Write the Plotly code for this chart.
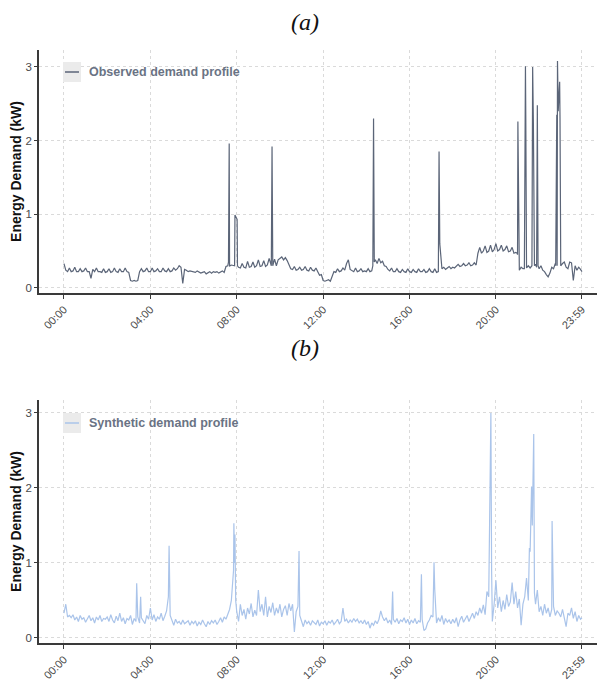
import plotly.graph_objects as go

# ---------------- data ----------------
tick_minutes = [0, 240, 480, 720, 960, 1200, 1439]
tick_labels = ["00:00", "04:00", "08:00", "12:00", "16:00", "20:00", "23:59"]

# Observed profile, 5-minute base readings (kW), one row per hour
obs_base = [
    0.33, 0.24, 0.22, 0.27, 0.22, 0.23, 0.28, 0.22, 0.22, 0.26, 0.22, 0.23,
    0.27, 0.22, 0.22, 0.13, 0.25, 0.22, 0.27, 0.22, 0.22, 0.21, 0.26, 0.21,
    0.22, 0.26, 0.21, 0.22, 0.27, 0.22, 0.21, 0.26, 0.22, 0.22, 0.27, 0.22,
    0.21, 0.10, 0.09, 0.10, 0.09, 0.10, 0.22, 0.26, 0.22, 0.23, 0.27, 0.22,
    0.22, 0.27, 0.22, 0.23, 0.26, 0.22, 0.22, 0.27, 0.23, 0.22, 0.26, 0.22,
    0.23, 0.27, 0.24, 0.26, 0.30, 0.28, 0.06, 0.25, 0.24, 0.22, 0.23, 0.22,
    0.22, 0.21, 0.23, 0.22, 0.20, 0.21, 0.22, 0.19, 0.21, 0.22, 0.20, 0.22,
    0.21, 0.22, 0.20, 0.22, 0.23, 0.21, 0.29, 0.30, 0.29, 0.31, 0.30, 0.30,
    0.94, 0.28, 0.27, 0.33, 0.28, 0.27, 0.36, 0.28, 0.29, 0.35, 0.28, 0.30,
    0.38, 0.29, 0.30, 0.37, 0.29, 0.31, 0.40, 0.30, 0.31, 0.39, 0.30, 0.38,
    0.40, 0.42, 0.38, 0.41, 0.37, 0.30, 0.26, 0.25, 0.29, 0.24, 0.25, 0.28,
    0.24, 0.25, 0.29, 0.24, 0.23, 0.28, 0.24, 0.23, 0.27, 0.22, 0.17, 0.18,
    0.10, 0.09, 0.10, 0.11, 0.09, 0.17, 0.22, 0.21, 0.26, 0.22, 0.23, 0.27,
    0.24, 0.33, 0.38, 0.25, 0.23, 0.22, 0.27, 0.22, 0.23, 0.26, 0.22, 0.23,
    0.22, 0.26, 0.22, 0.23, 0.34, 0.38, 0.33, 0.40, 0.34, 0.36, 0.30, 0.29,
    0.25, 0.23, 0.27, 0.22, 0.22, 0.26, 0.22, 0.21, 0.25, 0.22, 0.21, 0.26,
    0.22, 0.21, 0.25, 0.22, 0.21, 0.26, 0.22, 0.22, 0.25, 0.21, 0.22, 0.26,
    0.22, 0.21, 0.26, 0.21, 0.20, 0.55, 0.26, 0.28, 0.25, 0.27, 0.29, 0.26,
    0.28, 0.27, 0.30, 0.32, 0.29, 0.30, 0.33, 0.30, 0.31, 0.34, 0.30, 0.31,
    0.34, 0.31, 0.47, 0.55, 0.47, 0.50, 0.57, 0.48, 0.50, 0.58, 0.49, 0.52,
    0.60, 0.50, 0.52, 0.58, 0.50, 0.52, 0.57, 0.49, 0.50, 0.55, 0.47, 0.48,
    0.45, 0.24, 0.28, 0.26, 0.26, 0.27, 0.30, 0.27, 0.30, 0.30, 0.32, 0.28,
    0.26, 0.30, 0.24, 0.22, 0.18, 0.15, 0.20, 0.28, 0.26, 0.33, 0.30, 0.33,
    0.30, 0.33, 0.35, 0.28, 0.26, 0.35, 0.34, 0.10, 0.30, 0.24, 0.28, 0.25,
]
obs_end = 0.22  # reading at 23:59
# Observed short events (minute, kW)
obs_event_min = [457, 459, 461, 474, 475, 477, 479, 481, 482,
                 576, 578, 580, 858, 860, 862, 1040, 1042, 1044,
                 1259, 1261, 1263, 1279, 1280, 1281, 1282, 1283, 1284,
                 1300, 1301, 1302, 1304, 1306, 1307, 1313, 1315, 1317,
                 1366, 1367, 1369, 1371, 1373, 1375, 1377, 1378, 1379]
obs_event_kw = [0.35, 1.96, 0.30, 0.30, 0.99, 0.97, 0.95, 0.93, 0.30,
                0.30, 1.92, 0.30, 0.30, 2.30, 0.35, 0.22, 1.85, 0.60,
                0.47, 2.26, 0.25, 0.26, 2.25, 2.30, 3.01, 2.28, 0.28,
                0.30, 2.20, 3.00, 2.25, 2.20, 0.30, 0.28, 2.48, 0.30,
                0.30, 2.30, 2.35, 3.08, 2.40, 2.60, 2.80, 2.30, 0.30]

# Synthetic profile, 5-minute base readings (kW), one row per hour
syn_base = [
    0.33, 0.45, 0.28, 0.30, 0.27, 0.31, 0.24, 0.28, 0.22, 0.30, 0.25, 0.27,
    0.21, 0.26, 0.30, 0.23, 0.27, 0.20, 0.28, 0.24, 0.30, 0.22, 0.26, 0.25,
    0.28, 0.22, 0.31, 0.24, 0.20, 0.29, 0.23, 0.33, 0.22, 0.27, 0.19, 0.26,
    0.24, 0.30, 0.18, 0.26, 0.22, 0.28, 0.20, 0.27, 0.23, 0.19, 0.30, 0.25,
    0.40, 0.24, 0.31, 0.22, 0.28, 0.25, 0.33, 0.23, 0.29, 0.36, 0.55, 0.30,
    0.22, 0.17, 0.25, 0.20, 0.22, 0.18, 0.24, 0.19, 0.21, 0.23, 0.17, 0.22,
    0.19, 0.23, 0.16, 0.21, 0.18, 0.24, 0.19, 0.15, 0.22, 0.18, 0.23, 0.20,
    0.24, 0.18, 0.22, 0.27, 0.21, 0.28, 0.25, 0.32, 0.38, 0.50, 0.80, 0.45,
    0.35, 0.22, 0.45, 0.30, 0.38, 0.25, 0.40, 0.32, 0.46, 0.28, 0.37, 0.30,
    0.64, 0.35, 0.45, 0.30, 0.55, 0.28, 0.42, 0.34, 0.47, 0.30, 0.40, 0.33,
    0.45, 0.28, 0.38, 0.43, 0.30, 0.46, 0.36, 0.45, 0.08, 0.35, 0.42, 0.30,
    0.22, 0.15, 0.24, 0.19, 0.22, 0.17, 0.23, 0.20, 0.18, 0.24, 0.16, 0.21,
    0.19, 0.23, 0.17, 0.22, 0.20, 0.24, 0.18, 0.21, 0.25, 0.19, 0.22, 0.40,
    0.22, 0.25, 0.20, 0.24, 0.21, 0.26, 0.22, 0.25, 0.20, 0.23, 0.19, 0.24,
    0.18, 0.22, 0.13, 0.20, 0.17, 0.23, 0.19, 0.25, 0.36, 0.28, 0.23, 0.27,
    0.20, 0.24, 0.18, 0.25, 0.21, 0.26, 0.19, 0.24, 0.22, 0.27, 0.20, 0.25,
    0.18, 0.24, 0.20, 0.26, 0.19, 0.23, 0.21, 0.25, 0.10, 0.12, 0.20, 0.24,
    0.30, 0.28, 0.25, 0.20, 0.27, 0.22, 0.30, 0.18, 0.26, 0.21, 0.24, 0.19,
    0.25, 0.20, 0.27, 0.15, 0.24, 0.29, 0.21, 0.26, 0.30, 0.22, 0.28, 0.33,
    0.26, 0.35, 0.30, 0.40, 0.33, 0.44, 0.31, 0.62, 0.55, 2.30, 0.22, 0.45,
    0.77, 0.40, 0.55, 0.35, 0.50, 0.38, 0.58, 0.42, 0.48, 0.74, 0.45, 0.62,
    0.40, 0.52, 0.17, 0.45, 0.55, 0.80, 0.50, 1.15, 1.53, 2.72, 0.45, 0.64,
    0.35, 0.42, 0.30, 0.45, 0.33, 0.40, 0.28, 0.38, 0.42, 0.30, 0.36, 0.33,
    0.28, 0.38, 0.25, 0.15, 0.33, 0.30, 0.40, 0.26, 0.35, 0.22, 0.30, 0.25,
]
syn_end = 0.27  # reading at 23:59
# Synthetic short events (minute, kW)
syn_event_min = [202, 213, 292, 471, 472, 474, 475, 477, 653, 913, 993,
                 1028, 1030, 1183, 1186, 1188, 1293, 1299, 1301, 1307, 1356]
syn_event_kw = [0.73, 0.55, 1.23, 0.90, 1.53, 1.00, 1.38, 0.50, 1.16, 0.62, 0.85,
                1.01, 0.65, 1.76, 3.00, 0.90, 1.20, 2.02, 1.50, 0.60, 1.56]


def merge(base, end_value, ev_min, ev_kw):
    pts = {i * 5: v for i, v in enumerate(base)}
    pts[1439] = end_value
    for m, v in zip(ev_min, ev_kw):
        pts[m] = v
    keys = sorted(pts)
    return keys, [pts[k] for k in keys]


obs_x, obs_y = merge(obs_base, obs_end, obs_event_min, obs_event_kw)
syn_x, syn_y = merge(syn_base, syn_end, syn_event_min, syn_event_kw)

# ---------------- figure ----------------
OFF = 8  # page body margin in the browser
W, H = 605 - OFF, 681 - OFF
ML, MR, MT, MB = 39 - OFF, 0, 50 - OFF, 38
PW, PH = W - ML - MR, H - MT - MB


def px(sx):
    return (sx - OFF - ML) / PW


def py(sy):
    return (H - MB - (sy - OFF)) / PH


obs_color = "#5b6578"
syn_color = "#aac4ea"
legend_text_color = "#6a7384"
tick_font = dict(family="Liberation Sans, Arial", size=11, color="#4a4a4a")

fig = go.Figure()
fig.add_trace(go.Scatter(x=obs_x, y=obs_y, mode="lines", xaxis="x", yaxis="y",
                         line=dict(color=obs_color, width=1.2), showlegend=False))
fig.add_trace(go.Scatter(x=syn_x, y=syn_y, mode="lines", xaxis="x2", yaxis="y2",
                         line=dict(color=syn_color, width=1.2), showlegend=False))

xcommon = dict(range=[-69.4, 1503], tickmode="array", tickvals=tick_minutes,
               ticktext=tick_labels, tickangle=-45, showgrid=True,
               gridcolor="#dadada", griddash="dot", gridwidth=1,
               showline=True, linecolor="#3a3a3a", linewidth=1.6,
               ticks="outside", ticklen=4, tickcolor="#3a3a3a", tickwidth=1,
               zeroline=False, tickfont=tick_font, automargin=False)
ycommon = dict(tickmode="array", tickvals=[0, 1, 2, 3], showgrid=True,
               gridcolor="#dadada", griddash="dot", gridwidth=1,
               showline=True, linecolor="#3a3a3a", linewidth=1.6,
               ticks="outside", ticklen=3, tickcolor="#3a3a3a", tickwidth=1,
               zeroline=False, tickfont=dict(tick_font, size=11.5), automargin=False,
               title=dict(text="<b>Energy Demand (kW)</b>", standoff=6,
                          font=dict(family="Liberation Sans, Arial", size=14, color="#111111")))

fig.update_layout(
    width=W, height=H, margin=dict(l=ML, r=MR, t=MT, b=MB, autoexpand=False),
    paper_bgcolor="white", plot_bgcolor="white",
    xaxis=dict(**xcommon, domain=[0, 1], anchor="y"),
    yaxis=dict(**ycommon, domain=[py(293), 1], range=[-0.07, 3.23], anchor="x"),
    xaxis2=dict(**xcommon, domain=[0, 1], anchor="y2"),
    yaxis2=dict(**ycommon, domain=[0, py(400)], range=[-0.067, 3.173], anchor="x2"),
)

# panel titles
for label, ypix in [("(a)", 22), ("(b)", 348)]:
    fig.add_annotation(text="<i>" + label + "</i>", x=px(305), xref="paper", y=py(ypix), yref="paper",
                       showarrow=False,
                       font=dict(family="Liberation Serif, Times New Roman", size=24, color="#111111"),
                       xanchor="center", yanchor="middle")

# manual legends
for name, color, ycen in [("Observed demand profile", obs_color, 72),
                          ("Synthetic demand profile", syn_color, 423)]:
    fig.add_shape(type="rect", xref="paper", yref="paper",
                  x0=px(63), x1=px(81), y0=py(ycen + 10), y1=py(ycen - 10),
                  fillcolor="#ebebeb", line=dict(width=0), layer="above")
    fig.add_shape(type="line", xref="paper", yref="paper",
                  x0=px(65), x1=px(79), y0=py(ycen), y1=py(ycen),
                  line=dict(color=color, width=1.5), layer="above")
    fig.add_annotation(text="<b>" + name + "</b>", xref="paper", yref="paper",
                       x=px(87), y=py(ycen), xanchor="left", yanchor="middle",
                       showarrow=False,
                       font=dict(family="Liberation Sans, Arial", size=12.5, color=legend_text_color))

fig.write_html("out.html")
